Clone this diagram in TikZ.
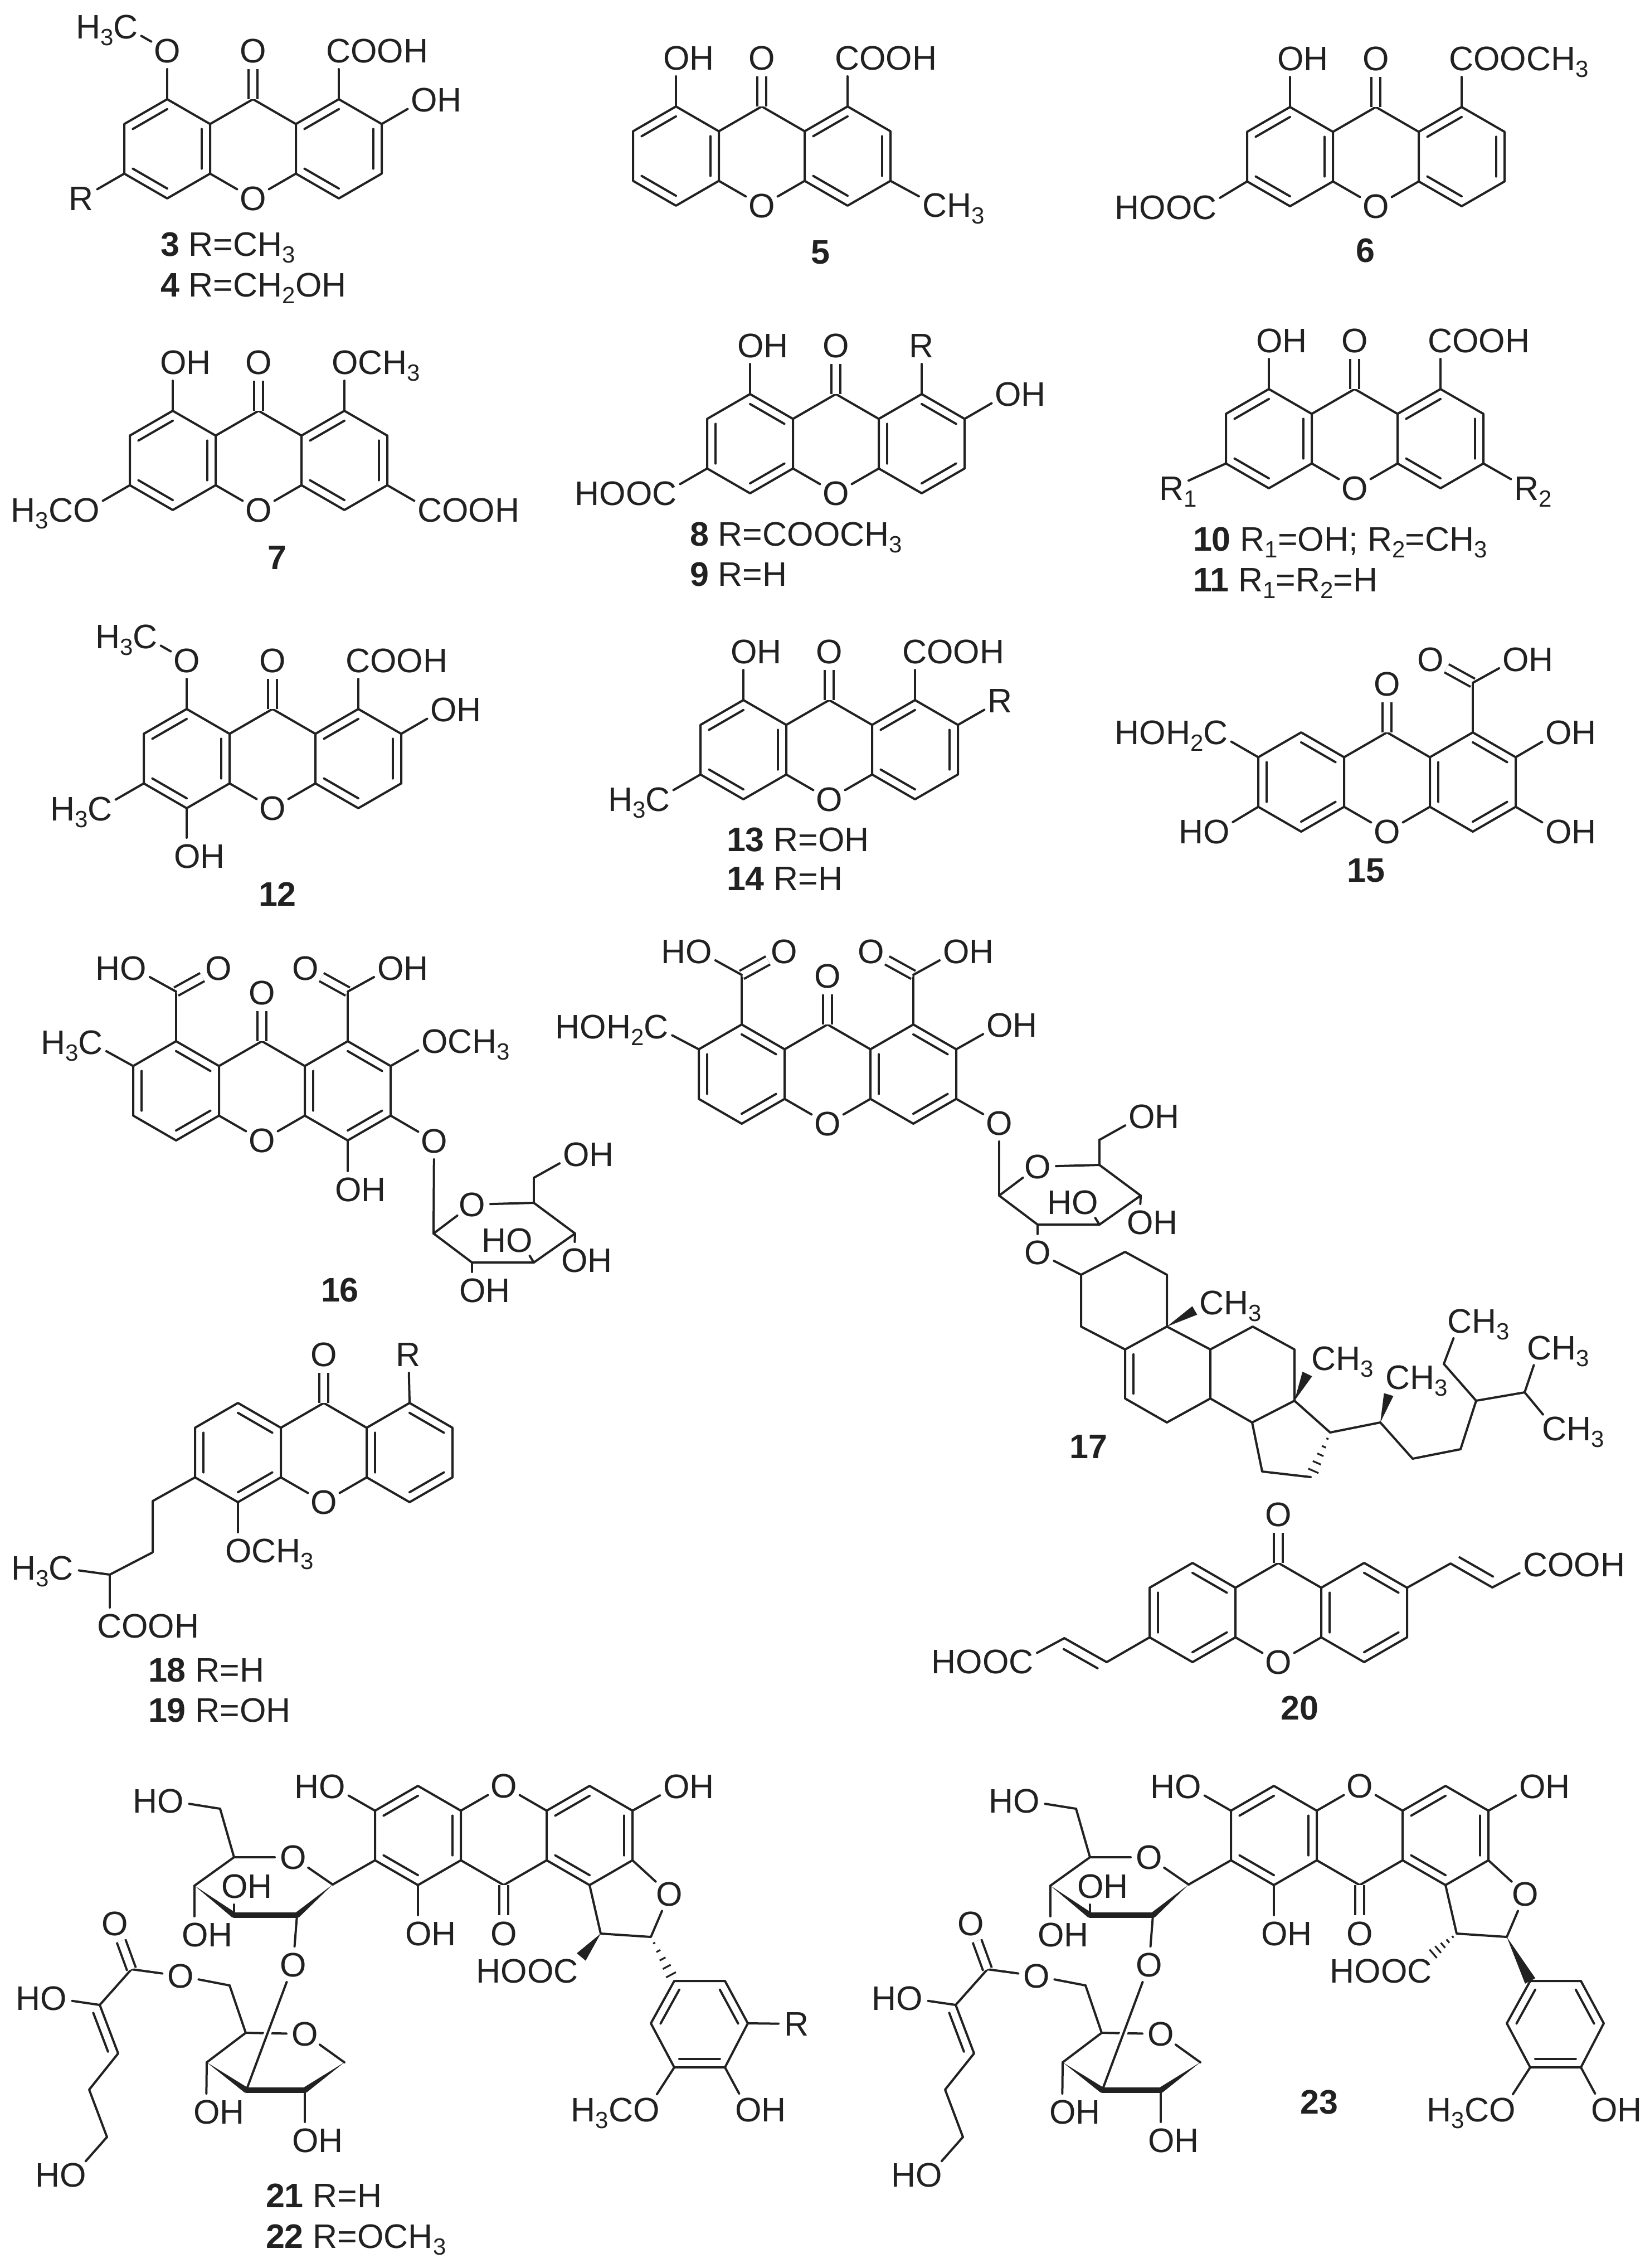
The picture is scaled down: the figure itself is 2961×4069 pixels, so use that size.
\documentclass[tikz,border=0pt]{standalone}
\usepackage{fontspec}
\setmainfont{Liberation Sans}
\usetikzlibrary{calc}
\definecolor{ink}{gray}{0.13}
\newcommand\sbc[1]{\raisebox{-3pt}{\fontsize{10.5}{10.5}\selectfont #1}}
\newcommand\xbd[2]{\draw[bond] (#1) -- (#2);}
\newcommand\xlab[5]{\node[att] (#1) at ({#2},{#3}) {};\node[txt,m#4] (#1t) at ({#2},{#3}) {#5};}
\newcommand\sbst[6]{\xlab{#2}{#3}{#4}{#5}{#6}\xbd{#1}{#2}}
\newcommand\inr[3]{\draw[bond] ($(#1)!.2!(#3)$) -- ($(#2)!.2!(#3)$);}
\newcommand\wdg[3]{\fill[ink] (#1) -- ($(#2)!#3!90:(#1)$) -- ($(#2)!#3!-90:(#1)$) -- cycle;}
\newcommand\xhash[2]{\foreach \t/\w in {.14/.5pt,.32/1pt,.5/1.5pt,.68/2pt,.86/2.5pt}{\draw[hashl] ($(#1)!\t!(#2)!\w!90:(#2)$) -- ($(#1)!\t!(#2)!\w!-90:(#2)$);}}
\newcommand\capl[4]{\node[txt,ml,xshift=5.7pt] (#1) at (#2,#3) {#4};}
\newcommand\capc[4]{\node[txt,mc] (#1) at (#2,#3) {#4};}
\newcommand\xan[2]{%
 \pgfmathsetmacro\xs{#2}%
 \coordinate (#1L1) at (-154,{-89*\xs});\coordinate (#1L2) at (-231,{-44.5*\xs});
 \coordinate (#1L3) at (-231,{44.5*\xs});\coordinate (#1L4) at (-154,{89*\xs});
 \coordinate (#1J1) at (-77,{-44.5*\xs});\coordinate (#1J2) at (-77,{44.5*\xs});
 \coordinate (#1J3) at (77,{-44.5*\xs});\coordinate (#1J4) at (77,{44.5*\xs});
 \coordinate (#1C) at (0,{-89*\xs});
 \coordinate (#1R1) at (154,{-89*\xs});\coordinate (#1R2) at (231,{-44.5*\xs});
 \coordinate (#1R3) at (231,{44.5*\xs});\coordinate (#1R4) at (154,{89*\xs});
 \coordinate (#1cl) at (-154,0);\coordinate (#1cr) at (154,0);
 \xlab{#1O}{0}{89*\xs}{c}{O}
 \xlab{#1K}{0}{-176*\xs}{c}{O}
 \draw[bond] (#1L1)--(#1L2)--(#1L3)--(#1L4)--(#1J2)--(#1J1)--cycle;
 \draw[bond] (#1R1)--(#1R2)--(#1R3)--(#1R4)--(#1J4)--(#1J3)--cycle;
 \draw[bond] (#1J1)--(#1C)--(#1J3);
 \xbd{#1J2}{#1O}\xbd{#1J4}{#1O}
 \draw[dbl] (#1C) -- (#1K);
}
\newcommand\patA[1]{\inr{#1L1}{#1L2}{#1cl}\inr{#1J1}{#1J2}{#1cl}\inr{#1L3}{#1L4}{#1cl}\inr{#1R1}{#1J3}{#1cr}\inr{#1R2}{#1R3}{#1cr}\inr{#1J4}{#1R4}{#1cr}}
\newcommand\patB[1]{\inr{#1L1}{#1J1}{#1cl}\inr{#1L2}{#1L3}{#1cl}\inr{#1L4}{#1J2}{#1cl}\inr{#1R1}{#1R2}{#1cr}\inr{#1J3}{#1J4}{#1cr}\inr{#1R3}{#1R4}{#1cr}}
% acid on ring atom: HO left, O right
\newcommand\acidA[3]{\coordinate (#2c) at (#3,-178);\xbd{#1}{#2c}\xlab{#2o}{#3+76}{-220}{c}{O}\draw[dbl] (#2c) -- (#2o);\sbst{#2c}{#2h}{#3-76}{-220}{r}{HO}}
% acid on ring atom: O left, OH right
\newcommand\acidB[3]{\coordinate (#2c) at (#3,-178);\xbd{#1}{#2c}\xlab{#2o}{#3-76}{-220}{c}{O}\draw[dbl] (#2c) -- (#2o);\sbst{#2c}{#2h}{#3+76}{-220}{l}{OH}}
% glucose ring, origin at the anomeric carbon
\newcommand\sugar[1]{%
 \coordinate (#1C1) at (0,0);\coordinate (#1C5) at (180,-55);\coordinate (#1C6) at (180,-100);
 \coordinate (#1C4) at (254,0);\coordinate (#1C3) at (180,52);\coordinate (#1C2) at (69,52);
 \xlab{#1O}{69}{-52}{c}{O}
 \draw[bond] (#1O)--(#1C5)--(#1C4)--(#1C3)--(#1C2)--(#1C1)--(#1O);
 \xbd{#1C5}{#1C6}
 \sbst{#1C6}{#1Oa}{255}{-142}{l}{OH}
 \sbst{#1C4}{#1Ob}{252}{48}{l}{OH}
 \sbst{#1C3}{#1Oc}{155}{12}{r}{HO}
}
% part shared by 21 and 23
\newcommand\gly[1]{%
 \xan{#1}{-1}\patA{#1}
 \sbst{#1R3}{#1h1}{309}{-88}{l}{OH}
 \sbst{#1L3}{#1h2}{-307}{-88}{r}{HO}
 \sbst{#1L1}{#1h3}{-154}{176}{l}{OH}
 \xlab{#1fO}{297}{105}{c}{O}
 \coordinate (#1f2) at (264,182);\coordinate (#1f3) at (174,176);
 \draw[bond] (#1R2)--(#1fO)--(#1f2)--(#1f3)--(#1R1);
 \coordinate (#1a1) at (306,261);\coordinate (#1a2) at (397,261);\coordinate (#1a3) at (438,337);
 \coordinate (#1a4) at (397,416);\coordinate (#1a5) at (306,416);\coordinate (#1a6) at (264,337);
 \coordinate (#1ac) at (351,339);
 \draw[bond] (#1a1)--(#1a2)--(#1a3)--(#1a4)--(#1a5)--(#1a6)--cycle;
 \inr{#1a1}{#1a6}{#1ac}\inr{#1a2}{#1a3}{#1ac}\inr{#1a4}{#1a5}{#1ac}
 \sbst{#1a4}{#1h4}{438}{492}{l}{OH}
 \sbst{#1a5}{#1h5}{257}{492}{r}{H\sbc3CO}
 % C-glucoside
 \coordinate (#1c1) at (-307,88);\coordinate (#1c5) at (-484,39);\coordinate (#1c6) at (-509,-48);
 \coordinate (#1c4) at (-555,90);\coordinate (#1c3) at (-484,143);\coordinate (#1c2) at (-371,143);
 \xbd{#1L2}{#1c1}
 \xlab{#1cO}{-378}{39}{c}{O}
 \draw[bond] (#1c1)--(#1cO)--(#1c5)--(#1c4);
 \xbd{#1c5}{#1c6}
 \sbst{#1c6}{#1h6}{-597}{-62}{r}{HO}
 \sbst{#1c4}{#1h7}{-555}{178}{l}{OH}
 \sbst{#1c3}{#1h8}{-484}{91}{l}{OH}
 \wdg{#1c4}{#1c3}{1.3pt}\wdg{#1c1}{#1c2}{1.3pt}
 \draw[thk] (#1c3) -- (#1c2);
 \sbst{#1c2}{#1gO}{-378}{232}{c}{O}
 % second sugar
 \coordinate (#1s5) at (-463,354);\coordinate (#1s4) at (-533,407);\coordinate (#1s3) at (-462,457);
 \coordinate (#1s2) at (-357,457);\coordinate (#1s1) at (-286,407);\coordinate (#1s6) at (-492,269);
 \xlab{#1sO}{-357}{356}{c}{O}
 \draw[bond] (#1s4)--(#1s5)--(#1sO)--(#1s1);
 \draw[bond,preaction={draw=white,line width=3.2pt}] (#1gO) -- (#1s3);
 \wdg{#1s4}{#1s3}{1.3pt}\wdg{#1s1}{#1s2}{1.3pt}
 \draw[thk] (#1s3) -- (#1s2);
 \sbst{#1s4}{#1h9}{-534}{496}{l}{OH}
 \sbst{#1s2}{#1h10}{-357}{547}{l}{OH}
 \xbd{#1s5}{#1s6}
 \xlab{#1eO}{-580}{252}{c}{O}
 \coordinate (#1e1) at (-668,240);\coordinate (#1e2) at (-725,304);\coordinate (#1e3) at (-692,391);
 \coordinate (#1e4) at (-744,456);\coordinate (#1e5) at (-712,541);\coordinate (#1ec) at (-783,375);
 \draw[bond] (#1s6)--(#1eO)--(#1e1)--(#1e2)--(#1e3)--(#1e4)--(#1e5);
 \inr{#1e2}{#1e3}{#1ec}
 \xlab{#1eK}{-698}{158}{c}{O}
 \draw[dbl] (#1e1) -- (#1eK);
 \sbst{#1e2}{#1h11}{-807}{292}{r}{HO}
 \sbst{#1e5}{#1h12}{-772}{609}{r}{HO}
}
\begin{document}
\begin{tikzpicture}[x=.25pt,y=-.25pt,
 bond/.style={draw=ink,line width=1pt,line join=round,line cap=round},
 dbl/.style={draw=ink,line width=1pt,double=white,double distance=3.1pt},
 thk/.style={draw=ink,line width=2.5pt,line cap=round},
 hashl/.style={draw=ink,line width=.8pt},
 att/.style={circle,minimum size=16.5pt,inner sep=0pt,outer sep=0pt},
 txt/.style={font=\fontsize{15.25}{18}\selectfont,text=ink,inner sep=0pt,outer sep=0pt,yshift=-5.45pt},
 ml/.style={anchor=base west,xshift=-5.7pt},
 mr/.style={anchor=base east,xshift=5.7pt},
 mc/.style={anchor=base}]
\useasboundingbox[fill=white] (0,0) rectangle (2961,4069);

% 3, 4
\begin{scope}[shift={(454,267)}]
 \xan{a}{1}\patA{a}
 \sbst{aL1}{aO1}{-154}{-176}{c}{O}
 \sbst{aO1}{aMe}{-229}{-219}{r}{H\sbc3C}
 \sbst{aR1}{aAc}{154}{-176}{l}{COOH}
 \sbst{aR2}{aOH}{306}{-88}{l}{OH}
 \sbst{aL3}{aRr}{-308}{89}{c}{R}
\end{scope}
\capl{c3}{288}{438}{\textbf{3} R=CH\sbc3}
\capl{c4}{288}{511}{\textbf{4} R=CH\sbc2OH}

% 5
\begin{scope}[shift={(1367,280)}]
 \xan{b}{1}\patA{b}
 \sbst{bL1}{bOH}{-154}{-176}{l}{OH}
 \sbst{bR1}{bAc}{154}{-176}{l}{COOH}
 \sbst{bR3}{bMe}{311}{88}{l}{CH\sbc3}
\end{scope}
\capc{c5}{1472}{452}{\textbf{5}}

% 6
\begin{scope}[shift={(2469,281)}]
 \xan{d}{1}\patA{d}
 \sbst{dL1}{dOH}{-154}{-176}{l}{OH}
 \sbst{dR1}{dAc}{154}{-176}{l}{COOCH\sbc3}
 \sbst{dL3}{dHo}{-308}{91}{r}{HOOC}
\end{scope}
\capc{c6}{2450}{449}{\textbf{6}}

% 7
\begin{scope}[shift={(464,826)}]
 \xan{e}{1}\patA{e}
 \sbst{eL1}{eOH}{-154}{-176}{l}{OH}
 \sbst{eR1}{eMe}{154}{-176}{l}{OCH\sbc3}
 \sbst{eL3}{eMo}{-308}{89}{r}{H\sbc3CO}
 \sbst{eR3}{eAc}{308}{89}{l}{COOH}
\end{scope}
\capc{c7}{497}{1000}{\textbf{7}}

% 8, 9
\begin{scope}[shift={(1500,796)}]
 \xan{f}{1}\patB{f}
 \sbst{fL1}{fOH}{-154}{-176}{l}{OH}
 \sbst{fR1}{fRr}{154}{-176}{c}{R}
 \sbst{fR2}{fOo}{308}{-89}{l}{OH}
 \sbst{fL3}{fHo}{-308}{89}{r}{HOOC}
\end{scope}
\capl{c8}{1238}{958}{\textbf{8} R=COOCH\sbc3}
\capl{c9}{1238}{1030}{\textbf{9} R=H}

% 10, 11
\begin{scope}[shift={(2431,787)}]
 \xan{g}{1}\patA{g}
 \sbst{gL1}{gOH}{-154}{-176}{l}{OH}
 \sbst{gR1}{gAc}{154}{-176}{l}{COOH}
 \sbst{gL3}{gRa}{-328}{89}{l}{R\sbc1}
 \sbst{gR3}{gRb}{309}{89}{l}{R\sbc2}
\end{scope}
\capl{c10}{2141}{967}{\textbf{10} R\sbc1=OH; R\sbc2=CH\sbc3}
\capl{c11}{2141}{1040}{\textbf{11} R\sbc1=R\sbc2=H}

% 12
\begin{scope}[shift={(489,1361)}]
 \xan{h}{1}\patA{h}
 \sbst{hL1}{hO1}{-154}{-176}{c}{O}
 \sbst{hO1}{hMe}{-229}{-219}{r}{H\sbc3C}
 \sbst{hR1}{hAc}{154}{-176}{l}{COOH}
 \sbst{hR2}{hOH}{306}{-88}{l}{OH}
 \sbst{hL3}{hMf}{-310}{90}{r}{H\sbc3C}
 \sbst{hL4}{hOd}{-154}{175}{l}{OH}
\end{scope}
\capc{c12}{498}{1604}{\textbf{12}}

% 13, 14
\begin{scope}[shift={(1488,1345)}]
 \xan{i}{1}\patA{i}
 \sbst{iL1}{iOH}{-154}{-176}{l}{OH}
 \sbst{iR1}{iAc}{154}{-176}{l}{COOH}
 \sbst{iR2}{iRr}{307}{-88}{c}{R}
 \sbst{iL3}{iMe}{-308}{89}{r}{H\sbc3C}
\end{scope}
\capl{c13}{1304}{1506}{\textbf{13} R=OH}
\capl{c14}{1304}{1576}{\textbf{14} R=H}

% 15
\begin{scope}[shift={(2489,1403)}]
 \xan{j}{1}\patB{j}
 \acidB{jR1}{ja}{154}
 \sbst{jL2}{jCh}{-308}{-89}{r}{HOH\sbc2C}
 \sbst{jL3}{jHo}{-305}{89}{r}{HO}
 \sbst{jR2}{jO1}{307}{-89}{l}{OH}
 \sbst{jR3}{jO2}{307}{89}{l}{OH}
\end{scope}
\capc{c15}{2451}{1561}{\textbf{15}}

% 16
\begin{scope}[shift={(470,1957)}]
 \xan{k}{1}\patB{k}
 \acidA{kL1}{ka}{-154}
 \acidB{kR1}{kb}{154}
 \sbst{kL2}{kMe}{-308}{-87}{r}{H\sbc3C}
 \sbst{kR2}{kMo}{309}{-89}{l}{OCH\sbc3}
 \sbst{kR3}{kOg}{309}{90}{c}{O}
 \sbst{kR4}{kOH}{154}{177}{l}{OH}
\end{scope}
\begin{scope}[shift={(778,2213)}]
 \sugar{ks}
 \xbd{kOg}{ksC1}
 \sbst{ksC2}{ksOd}{69}{102}{l}{OH}
\end{scope}
\capc{c16}{610}{2314}{\textbf{16}}

% 17
\begin{scope}[shift={(1485,1927)}]
 \xan{m}{1}\patB{m}
 \acidA{mL1}{ma}{-154}
 \acidB{mR1}{mb}{154}
 \sbst{mL2}{mCh}{-308}{-85}{r}{HOH\sbc2C}
 \sbst{mR2}{mOH}{308}{-88}{l}{OH}
 \sbst{mR3}{mOg}{308}{88}{c}{O}
\end{scope}
\begin{scope}[shift={(1793,2145)}]
 \sugar{ms}
 \xbd{mOg}{msC1}
 \sbst{msC2}{msOd}{69}{102}{c}{O}
\end{scope}
\coordinate (s3) at (1940,2287);\coordinate (s2) at (2019,2246);\coordinate (s1) at (2094,2287);
\coordinate (s10) at (2094,2380);\coordinate (s5) at (2019,2421);\coordinate (s4) at (1940,2380);
\coordinate (s6) at (2019,2509);\coordinate (s7) at (2094,2552);\coordinate (s8) at (2172,2509);
\coordinate (s9) at (2172,2421);\coordinate (s11) at (2248,2380);\coordinate (s12) at (2323,2421);
\coordinate (s13) at (2323,2513);\coordinate (s14) at (2247,2552);\coordinate (s15) at (2265,2640);
\coordinate (s16) at (2352,2650);\coordinate (s17) at (2387,2570);\coordinate (s20) at (2477,2552);
\coordinate (s22) at (2535,2617);\coordinate (s23) at (2621,2600);\coordinate (s24) at (2649,2513);
\coordinate (s25) at (2736,2498);\coordinate (s28) at (2591,2447);\coordinate (sbc) at (2094,2465);
\xbd{msOd}{s3}
\draw[bond] (s3)--(s2)--(s1)--(s10)--(s5)--(s4)--cycle;
\draw[bond] (s5)--(s6)--(s7)--(s8)--(s9)--(s10);
\draw[bond] (s9)--(s11)--(s12)--(s13)--(s14)--(s8);
\draw[bond] (s14)--(s15)--(s16);
\draw[bond] (s13)--(s17)--(s20)--(s22)--(s23)--(s24)--(s25);
\draw[bond] (s24)--(s28);
\inr{s5}{s6}{sbc}
\xhash{s17}{s16}
\coordinate (w10) at (2144,2351);\coordinate (w13) at (2346,2465);\coordinate (w20) at (2492,2502);
\wdg{s10}{w10}{2.2pt}\wdg{s13}{w13}{2.4pt}\wdg{s20}{w20}{2.2pt}
\xlab{me10}{2175}{2337}{l}{CH\sbc3}
\xlab{me13}{2376}{2437}{l}{CH\sbc3}
\xlab{me20}{2509}{2471}{l}{CH\sbc3}
\sbst{s28}{me28}{2620}{2370}{l}{CH\sbc3}
\sbst{s25}{me26}{2763}{2418}{l}{CH\sbc3}
\sbst{s25}{me27}{2790}{2563}{l}{CH\sbc3}
\capc{c17}{1953}{2595}{\textbf{17}}

% 18, 19
\begin{scope}[shift={(581,2606)}]
 \xan{n}{1}\patB{n}
 \sbst{nR1}{nRr}{152}{-176}{c}{R}
 \sbst{nL4}{nMo}{-154}{176}{l}{OCH\sbc3}
 \coordinate (nc1) at (-307,87);\coordinate (nc2) at (-307,179);\coordinate (nc3) at (-384,219);
 \draw[bond] (nL3)--(nc1)--(nc2)--(nc3);
 \sbst{nc3}{nMe}{-472}{207}{r}{H\sbc3C}
 \sbst{nc3}{nAc}{-384}{311}{l}{COOH}
\end{scope}
\capl{c18}{266}{2996}{\textbf{18} R=H}
\capl{c19}{266}{3068}{\textbf{19} R=OH}

% 20
\begin{scope}[shift={(2294,2893)}]
 \xan{p}{1}\patB{p}
 \coordinate (pv1) at (309,-88);\coordinate (pv2) at (384,-45);\coordinate (pvc) at (390,-143);
 \coordinate (pw1) at (-384,46);\coordinate (pw2) at (-308,89);\coordinate (pwc) at (-390,144);
 \draw[bond] (pR2)--(pv1)--(pv2);\inr{pv1}{pv2}{pvc}
 \draw[bond] (pL3)--(pw2)--(pw1);\inr{pw1}{pw2}{pwc}
 \sbst{pv2}{pAc}{462}{-86}{l}{COOH}
 \sbst{pw1}{pHo}{-462}{88}{r}{HOOC}
\end{scope}
\capc{c20}{2332}{3064}{\textbf{20}}

% 21, 22
\begin{scope}[shift={(904,3293)}]
 \gly{q}
 \coordinate (qt1) at (139,218);
 \wdg{qf3}{qt1}{2.6pt}
 \xlab{qHo}{111}{243}{r}{HOOC}
 \xhash{qf2}{qa1}
 \sbst{qa3}{qRr}{526}{338}{c}{R}
\end{scope}
\capl{c21}{477}{3939}{\textbf{21} R=H}
\capl{c22}{477}{4012}{\textbf{22} R=OCH\sbc3}

% 23
\begin{scope}[shift={(2440,3293)}]
 \gly{r}
 \coordinate (rt1) at (125,218);
 \xhash{rf3}{rt1}
 \xlab{rHo}{107}{243}{r}{HOOC}
 \wdg{rf2}{ra1}{2.6pt}
\end{scope}
\capc{c23}{2367}{3771}{\textbf{23}}
\end{tikzpicture}
\end{document}
